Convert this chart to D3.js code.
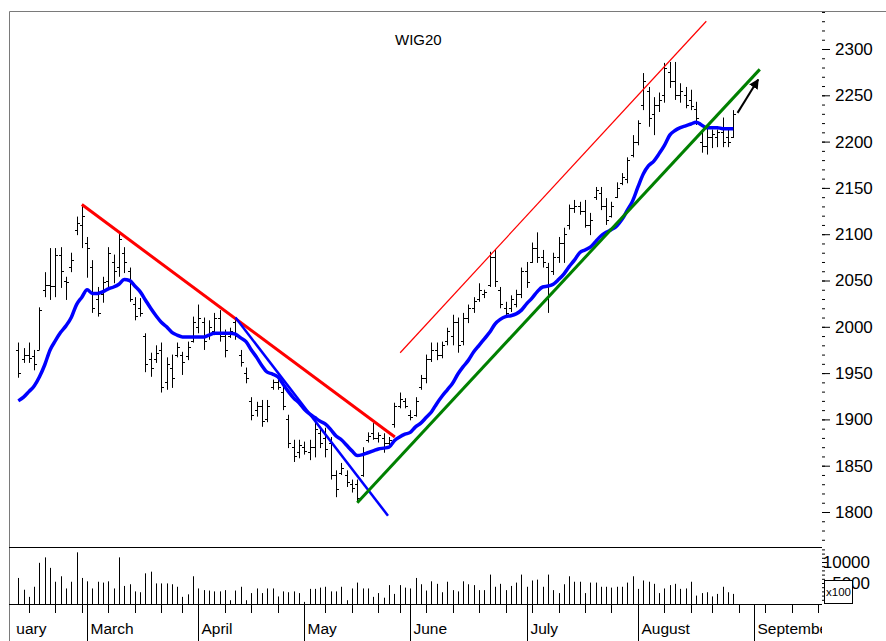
<!DOCTYPE html>
<html>
<head>
<meta charset="utf-8">
<script src="https://cdn.jsdelivr.net/npm/d3@7"></script>
<style>
  body { margin: 0; background: #fff; }
  svg { display: block; }
  .lbl { font-family: "Liberation Sans", Arial, sans-serif; font-size: 17px; fill: #000; }
  .mon { font-family: "Liberation Sans", Arial, sans-serif; font-size: 15.5px; fill: #000; }
  .ttl { font-family: "Liberation Sans", Arial, sans-serif; font-size: 15px; fill: #000; }
</style>
</head>
<body>
<svg id="chart" width="886" height="641"></svg>
<script>
// ---- data ----
const title = 'WIG20';
const months = ['February', 'March', 'April', 'May', 'June', 'July', 'August', 'September'];
const monthStart = [-7, 13, 34, 54, 74, 96, 117, 139];   // bar index of first session
const weekTicks = [2, 7, 12, 17, 22, 27, 31, 39, 44, 49, 58, 63, 68, 72, 77, 82, 87, 92, 97,
  102, 107, 112, 122, 127, 131, 136, 141, 146, 151];
const priceTicks = [1800, 1850, 1900, 1950, 2000, 2050, 2100, 2150, 2200, 2250, 2300];
const volTicks = [5000, 10000];

const open = [1975,1965,1970,1968,1975,2040,2045,2044,2078,2050,2065,2105,2110,
  2090,2065,2030,2035,2050,2070,2065,2080,2060,2025,2020,1990,1965,1965,1975,1940,1955,1970,1970,1968,1985,2000,
  2005,1990,1995,2010,1990,1990,2005,1970,1950,1920,1910,1915,1900,1935,1940,1930,1900,1870,1865,1870,
  1865,1870,1885,1880,1875,1840,1842,1840,1830,1830,1840,1878,1885,1880,1880,1875,1895,1915,1920,1905,
  1905,1935,1945,1965,1975,1970,1985,1990,2005,1985,2010,2020,2030,2035,2045,2075,2040,2020,2020,2025,2035,
  2060,2070,2085,2075,2065,2060,2075,2090,2110,2128,2130,2125,2110,2140,2145,2130,2120,2140,2155,2160,2185,
  2200,2240,2255,2230,2240,2250,2275,2265,2250,2250,2245,2235,2200,2195,2205,2205,2210,2205,2205];
const high = [1983,1977,1983,1975,2021,2059,2085,2085,2086,2054,2080,2119,2132,
  2097,2072,2043,2054,2086,2078,2101,2086,2064,2032,2031,1993,1972,1980,1983,1967,1970,1983,1973,1984,2011,2024,
  2010,2007,2015,2018,1997,1999,2010,1975,1956,1924,1919,1921,1921,1943,1945,1935,1905,1878,1878,1876,
  1878,1897,1892,1891,1881,1845,1853,1845,1835,1835,1870,1886,1896,1886,1885,1881,1918,1929,1923,1910,
  1924,1948,1970,1983,1983,1984,1999,2013,2010,2015,2024,2032,2047,2040,2081,2083,2043,2027,2034,2040,2064,
  2070,2091,2102,2083,2069,2080,2097,2107,2132,2137,2135,2137,2123,2151,2151,2139,2135,2156,2166,2183,2207,
  2223,2274,2259,2248,2253,2285,2286,2286,2263,2259,2256,2243,2213,2215,2213,2213,2226,2213,2234];
const low = [1945,1961,1961,1953,1975,2032,2029,2032,2042,2029,2059,2099,2085,
  2053,2015,2011,2026,2043,2047,2054,2058,2027,2007,2011,1951,1946,1961,1929,1932,1934,1967,1948,1964,1983,1993,
  1975,1986,1991,1984,1967,1988,1986,1957,1939,1899,1903,1892,1897,1932,1932,1910,1869,1854,1858,1862,
  1856,1859,1869,1859,1835,1816,1840,1827,1821,1811,1838,1875,1878,1875,1864,1872,1891,1912,1912,1899,
  1903,1932,1939,1962,1964,1966,1980,1980,1972,1980,2004,2015,2027,2031,2043,2043,2020,2011,2016,2021,2031,
  2042,2069,2069,2064,2015,2056,2069,2069,2105,2123,2121,2107,2099,2137,2126,2110,2118,2139,2153,2155,2183,
  2196,2234,2216,2207,2232,2242,2258,2245,2242,2236,2234,2218,2188,2186,2193,2194,2194,2194,2204];
const close = [1950,1970,1966,1960,2018,2045,2044,2078,2060,2048,2072,2112,2120,
  2085,2020,2015,2048,2080,2060,2095,2070,2030,2012,2015,1960,1955,1972,1935,1960,1945,1978,1962,1978,2005,2010,
  1985,2000,2010,1990,1975,1995,1990,1962,1945,1905,1915,1898,1915,1940,1935,1915,1875,1860,1872,1866,
  1870,1890,1875,1868,1840,1825,1848,1832,1826,1815,1865,1882,1880,1883,1875,1878,1915,1922,1915,1903,
  1920,1945,1965,1975,1970,1980,1995,2005,1980,2010,2020,2028,2040,2038,2075,2050,2025,2015,2030,2035,2060,
  2048,2085,2075,2070,2045,2075,2090,2100,2128,2130,2125,2110,2115,2148,2130,2115,2130,2150,2162,2180,2200,
  2220,2265,2225,2240,2245,2280,2265,2250,2255,2240,2238,2225,2195,2205,2208,2210,2200,2200,2230];
const movingAvg = [1920,1924,1930,1936,1946,1959,1975,1985,1994,2001,2010,2024,2032,
  2040,2036,2036,2038,2041,2043,2046,2051,2050,2044,2038,2029,2020,2012,2005,2000,1994,1991,1989,1989,1989,1989,
  1989,1991,1993,1993,1993,1993,1992,1988,1984,1975,1967,1958,1951,1949,1946,1938,1930,1923,1918,1911,
  1906,1902,1898,1895,1889,1882,1878,1872,1866,1861,1862,1864,1866,1868,1869,1870,1877,1881,1884,1886,
  1892,1896,1902,1908,1917,1925,1932,1939,1949,1957,1964,1973,1980,1987,1994,2003,2008,2011,2012,2014,2018,
  2025,2031,2038,2043,2044,2046,2051,2057,2065,2072,2080,2083,2086,2092,2098,2102,2105,2109,2116,2126,2136,
  2151,2165,2174,2179,2187,2196,2207,2212,2215,2217,2219,2221,2218,2215,2215,2215,2214,2214,2214];
const volume = [6200,3400,1700,4100,9800,11100,8600,5300,6600,3700,5300,12300,6200,
  5400,3700,5300,5100,5400,3700,11100,4300,4700,3000,2800,7300,7700,4900,4900,4900,4700,4100,1700,2300,6600,3700,
  3300,3200,3000,3000,3300,900,3200,4100,900,2600,3700,2600,3700,3700,1800,3000,2800,3000,2600,500,
  3600,3600,3900,4100,3000,3000,4100,900,3700,5100,3700,3700,1700,2600,1500,4500,2400,4500,3900,3700,
  6200,4700,3200,5400,4800,2800,5300,3300,3000,5400,4700,4500,3300,3300,7000,4100,4800,3300,4300,5100,7000,
  4100,5600,5800,4100,7000,3300,2600,4700,6600,5300,5300,2600,5100,5100,4100,4100,3900,4100,4100,5100,6600,
  3600,5600,5300,4800,2600,3700,4500,4800,3600,3700,5300,2000,2600,2800,1800,2400,4100,2800,2400];

// trend lines as [bar index, price]
const redDown = [[12, 2132], [71.1, 1881]];
const blueDown = [[41, 2010], [69.8, 1796]];
const greenUp = [[64, 1810], [140, 2278]];
const redChannel = [[72.1, 1972], [129.9, 2330]];
const arrowPts = [[135.8, 2231], [139.7, 2267]];

// ---- layout ----
const padL = 9, padR = 822, padT = 11, sepY = 547, baseY = 604, botY = 641;
const svg = d3.select('#chart');

const x = d3.scaleLinear().domain([0, 135]).range([18.3, 733.3]);
const y = d3.scaleLinear().domain([1800, 2300]).range([512, 49]);
const yv = d3.scaleLinear().domain([0, 10000]).range([baseY, 562]);
const px = v => Math.round(x(v)) + 0.5;

const defs = svg.append('defs');
defs.append('clipPath').attr('id', 'pclip')
  .append('rect').attr('x', padL).attr('y', padT).attr('width', padR - padL).attr('height', sepY - padT);
defs.append('clipPath').attr('id', 'mclip')
  .append('rect').attr('x', 16).attr('y', baseY).attr('width', padR - 16).attr('height', botY - baseY);
defs.append('marker').attr('id', 'ah').attr('viewBox', '0 0 10 10')
  .attr('refX', 9).attr('refY', 5).attr('markerWidth', 5).attr('markerHeight', 5)
  .attr('orient', 'auto')
  .append('path').attr('d', 'M0,0 L10,5 L0,10 Z').attr('fill', '#000');

// frame
svg.append('path').attr('d', `M${padL + 0.5},${botY} V${padT + 0.5} H886`)
  .attr('fill', 'none').attr('stroke', '#7a7a7a');
svg.append('path').attr('d', `M${padL},${sepY + 0.5} H${padR} M${padL},${baseY + 0.5} H${padR}`)
  .attr('stroke', '#000');

// title
svg.append('text').attr('class', 'ttl').attr('x', 395).attr('y', 45).text(title);

// OHLC bars
const price = svg.append('g').attr('clip-path', 'url(#pclip)');
const idx = d3.range(open.length);
price.append('g').selectAll('path').data(idx).join('path')
  .attr('d', i => {
    const cx = px(i);
    const yo = Math.round(y(open[i])) + 0.5, yc = Math.round(y(close[i])) + 0.5;
    return `M${cx},${y(high[i])} V${y(low[i])} M${cx - 2.5},${yo} H${cx} M${cx},${yc} H${cx + 2.5}`;
  })
  .attr('fill', 'none').attr('stroke', '#000').attr('stroke-width', 1);

// moving average
const line = d3.line().x(d => x(d[0])).y(d => y(d[1]));
price.append('path')
  .attr('d', d3.line().x((d, i) => x(i)).y(d => y(d)).curve(d3.curveMonotoneX)(movingAvg))
  .attr('fill', 'none').attr('stroke', '#0000ff').attr('stroke-width', 3.5)
  .attr('stroke-linejoin', 'round');

// trend lines
price.append('path').attr('d', line(redDown)).attr('stroke', '#ff0000').attr('stroke-width', 3);
price.append('path').attr('d', line(blueDown)).attr('stroke', '#0000ff').attr('stroke-width', 2.5);
price.append('path').attr('d', line(greenUp)).attr('stroke', '#008000').attr('stroke-width', 3);
price.append('path').attr('d', line(redChannel)).attr('stroke', '#ff0000').attr('stroke-width', 1.2);
price.append('path').attr('d', line(arrowPts)).attr('stroke', '#000').attr('stroke-width', 2)
  .attr('marker-end', 'url(#ah)');

// price axis
svg.append('g').attr('transform', `translate(${padR},0)`)
  .call(d3.axisRight(y).tickValues(d3.range(1770, 2341, 10)).tickSize(3).tickFormat(''))
  .call(g => g.select('.domain').remove());
svg.append('g').attr('transform', `translate(${padR},0)`)
  .call(d3.axisRight(y).tickValues(priceTicks).tickSize(8).tickPadding(5).tickFormat(d3.format('d')))
  .call(g => g.select('.domain').remove())
  .call(g => g.selectAll('text').attr('class', 'lbl'))
  .attr('font-size', null).attr('font-family', null);

// volume bars
svg.append('g').selectAll('path').data(idx).join('path')
  .attr('d', i => `M${px(i)},${yv(0)} V${yv(volume[i])}`)
  .attr('stroke', '#000').attr('stroke-width', 1);

// volume axis
svg.append('g').attr('transform', `translate(${padR},0)`)
  .call(d3.axisRight(yv).tickValues(d3.range(1000, 14000, 1000)).tickSize(3).tickFormat(''))
  .call(g => g.select('.domain').remove());
svg.append('g').attr('transform', `translate(${padR},0)`)
  .call(d3.axisRight(yv).tickValues(volTicks).tickSize(5).tickPadding(3).tickFormat(d3.format('d')))
  .call(g => g.select('.domain').remove())
  .call(g => g.selectAll('text').attr('class', 'lbl').attr('text-anchor', 'end').attr('x', 48))
  .attr('font-size', null).attr('font-family', null);
svg.append('rect').attr('x', 824.5).attr('y', 580.5).attr('width', 28).attr('height', 23)
  .attr('fill', '#fff').attr('stroke', '#000');
svg.append('text').attr('x', 838.5).attr('y', 596).attr('text-anchor', 'middle')
  .attr('font-family', 'Liberation Sans, Arial, sans-serif').attr('font-size', 11.5).text('x100');

// time axis
svg.append('g').selectAll('path').data(weekTicks).join('path')
  .attr('d', d => `M${px(d)},${baseY} V${baseY + 9}`).attr('stroke', '#000');
const mAxis = svg.append('g').attr('clip-path', 'url(#mclip)');
mAxis.selectAll('path').data(monthStart).join('path')
  .attr('d', d => `M${px(d)},${baseY} V${botY}`).attr('stroke', '#000');
mAxis.selectAll('text').data(months).join('text').attr('class', 'mon')
  .attr('x', (d, i) => px(monthStart[i]) + 3).attr('y', 634).text(d => d);
</script>
</body>
</html>
